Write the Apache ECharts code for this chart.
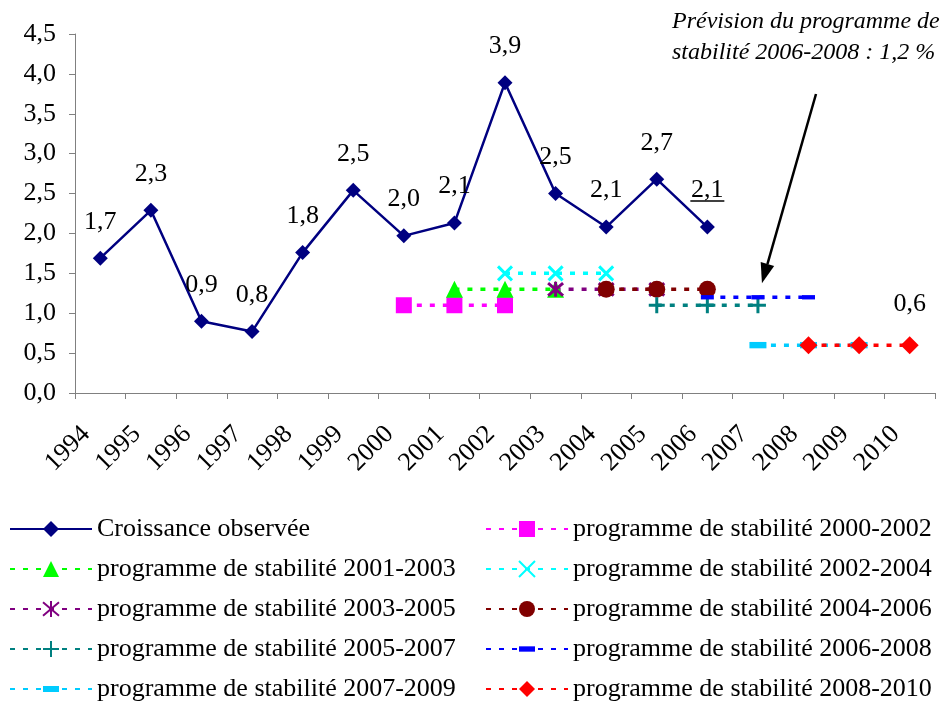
<!DOCTYPE html>
<html style="height: 100%">
	<head>
		<meta charset="utf-8">
	</head>
	<body style="height: 100%; margin: 0; background: #fff">
		<div id="container" style="width: 944px; height: 701px"></div>
		<script src="https://cdn.jsdelivr.net/npm/echarts@6/dist/echarts.min.js" type="text/javascript" charset="utf-8"></script>
		<script type="text/javascript">
			// années (axe des abscisses)
			var years = ['1994','1995','1996','1997','1998','1999','2000','2001','2002','2003','2004','2005','2006','2007','2008','2009','2010'];
			// croissance observée 1994-2006
			var observed = [1.69, 2.29, 0.90, 0.77, 1.76, 2.54, 1.97, 2.13, 3.89, 2.50, 2.08, 2.68, 2.08];
			// programmes de stabilité (3 années à partir de la première)
			var prog2000 = [1.1, 1.1, 1.1];
			var prog2001 = [1.3, 1.3, 1.3];
			var prog2002 = [1.5, 1.5, 1.5];
			var prog2003 = [1.3, 1.3, 1.3];
			var prog2004 = [1.3, 1.3, 1.3];
			var prog2005 = [1.1, 1.1, 1.1];
			var prog2006 = [1.2, 1.2, 1.2];
			var prog2007 = [0.6, 0.6, 0.6];
			var prog2008 = [0.6, 0.6, 0.6];

			var FONT = '"Liberation Serif", "Times New Roman", serif';

			function place(startYear, vals) {
				var arr = years.map(function () { return null; });
				var i = years.indexOf(startYear);
				for (var k = 0; k < vals.length; k++) { arr[i + k] = vals[k]; }
				return arr;
			}
			function fr(v) { return v.toFixed(1).replace('.', ','); }

			var pathX = 'path://M0,0L10,10M10,0L0,10';
			var pathStar = 'path://M0,0L10,10M10,0L0,10M5,-1L5,11';
			var pathPlus = 'path://M5,0L5,10M0,5L10,5';
			// tirets dans une boîte carrée (même forme dans la légende)
			var dashBlue = 'path://M0,0M12,12M0,4L12,4L12,8L0,8Z';
			var dashSky = 'path://M0,0M16,16M0,5L16,5L16,11L0,11Z';

			function prog(name, start, vals, color, symbol, size, stroke) {
				return {
					name: name,
					type: 'line',
					data: place(start, vals),
					symbol: symbol,
					symbolSize: size,
					color: color,
					lineStyle: { color: color, width: 3.5, type: [5, 8] },
					itemStyle: stroke ? { color: 'none', borderColor: color, borderWidth: 3 } : { color: color, borderWidth: 0 },
					label: { show: false }
				};
			}

			var series = [
				{
					name: 'Croissance observée',
					type: 'line',
					data: observed,
					symbol: 'diamond',
					symbolSize: 15,
					color: '#000080',
					lineStyle: { color: '#000080', width: 2.5 },
					itemStyle: { color: '#000080' },
					label: {
						show: true, position: 'top', distance: 16,
						color: '#000', fontSize: 26, fontFamily: FONT,
						formatter: function (p) { return fr(p.value); }
					}
				},
				prog('programme de stabilité 2000-2002', '2000', prog2000, '#FF00FF', 'rect', 16, false),
				prog('programme de stabilité 2001-2003', '2001', prog2001, '#00FF00', 'triangle', 17, false),
				prog('programme de stabilité 2002-2004', '2002', prog2002, '#00FFFF', pathX, 14, true),
				prog('programme de stabilité 2003-2005', '2003', prog2003, '#800080', pathStar, 15, true),
				prog('programme de stabilité 2004-2006', '2004', prog2004, '#800000', 'circle', 17, false),
				prog('programme de stabilité 2005-2007', '2005', prog2005, '#008080', pathPlus, 16, true),
				prog('programme de stabilité 2006-2008', '2006', prog2006, '#0000FF', dashBlue, 13, false),
				prog('programme de stabilité 2007-2009', '2007', prog2007, '#00CCFF', dashSky, 17, false),
				prog('programme de stabilité 2008-2010', '2008', prog2008, '#FF0000', 'diamond', 18, false)
			];
			// étiquette de la dernière valeur du programme 2008-2010
			var last = series[9].data;
			last[last.length - 1] = {
				value: last[last.length - 1],
				label: { show: true, position: 'top', distance: 19, color: '#000', fontSize: 26, fontFamily: FONT,
					formatter: function (p) { return fr(p.value); } }
			};

			var names = series.map(function (s) { return s.name; });
			var legendLeft = [names[0], names[2], names[4], names[6], names[8]];
			var legendRight = [names[1], names[3], names[5], names[7], names[9]];
			var legendText = { color: '#000', fontSize: 26, fontFamily: FONT };

			var myChart = echarts.init(document.getElementById('container'));
			var option = {
				backgroundColor: '#fff',
				animation: false,
				grid: { left: 75, right: 9, top: 34, bottom: 308 },
				legend: [
					{ data: legendLeft, orient: 'vertical', left: 4, top: 511, height: 190, itemWidth: 82, itemHeight: 20, itemGap: 14, textStyle: legendText },
					{ data: legendRight, orient: 'vertical', left: 480, top: 511, height: 190, itemWidth: 82, itemHeight: 20, itemGap: 14, textStyle: legendText }
				],
				xAxis: {
					type: 'category',
					data: years,
					axisLine: { lineStyle: { color: '#808080', width: 1 } },
					axisTick: { show: true, length: 6, lineStyle: { color: '#808080' } },
					axisLabel: { rotate: 45, interval: 0, margin: 23, padding: [0, 20, 0, 0], color: '#000', fontSize: 26, fontFamily: FONT }
				},
				yAxis: {
					type: 'value',
					min: 0, max: 4.5, interval: 0.5,
					splitLine: { show: false },
					axisLine: { show: true, lineStyle: { color: '#808080', width: 1 } },
					axisTick: { show: true, length: 6, lineStyle: { color: '#808080' } },
					axisLabel: { margin: 19, color: '#000', fontSize: 26, fontFamily: FONT, formatter: function (v) { return fr(v); } }
				},
				series: series
			};
			myChart.setOption(option);

			// annotation, flèche et soulignement
			var p2006 = myChart.convertToPixel({ seriesIndex: 0 }, [12, observed[12]]);
			var p2007 = myChart.convertToPixel({ seriesIndex: 7 }, [13, prog2006[1]]);
			var S = [816, 94];
			var T = [p2007[0] + 4, p2007[1] - 14];
			var dx = T[0] - S[0], dy = T[1] - S[1];
			var len = Math.sqrt(dx * dx + dy * dy);
			var ux = dx / len, uy = dy / len, px = -uy, py = ux;
			var hb = [T[0] - ux * 20, T[1] - uy * 20];
			myChart.setOption({
				graphic: [
					{ type: 'text', left: 672, top: 10, style: { text: 'Prévision du programme de', font: 'italic 24px ' + FONT, fill: '#000' } },
					{ type: 'text', left: 672, top: 41, style: { text: 'stabilité 2006-2008 : 1,2 %', font: 'italic 24px ' + FONT, fill: '#000' } },
					{ type: 'line', shape: { x1: S[0], y1: S[1], x2: hb[0], y2: hb[1] }, style: { stroke: '#000', lineWidth: 2.5 } },
					{ type: 'polygon', shape: { points: [T, [hb[0] + px * 7, hb[1] + py * 7], [hb[0] - px * 7, hb[1] - py * 7]] }, style: { fill: '#000' } },
					{ type: 'line', shape: { x1: p2006[0] - 17, y1: p2006[1] - 26, x2: p2006[0] + 17, y2: p2006[1] - 26 }, style: { stroke: '#000', lineWidth: 1.5 } }
				]
			});
		</script>
	</body>
</html>
